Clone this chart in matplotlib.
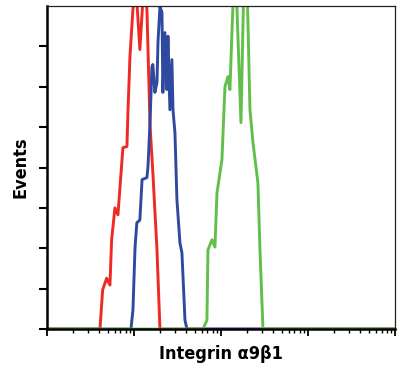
import numpy as np
import matplotlib
matplotlib.use("Agg")
import matplotlib.pyplot as plt
from matplotlib import font_manager
from matplotlib.ticker import LogLocator, NullFormatter

# fluorescence intensity (log scale) and event counts per histogram
red_x = [1, 4.07, 4.37, 4.86, 5.30, 5.54, 6.05, 6.55, 7.47, 8.31, 8.53, 9.0, 9.74,
         10.5, 11.7, 13.0, 14.1, 15.3, 16.5, 18.4, 19.9, 10000]
red_y = [0, 0, 0.97, 1.26, 1.09, 2.21, 3.0, 2.83, 4.49, 4.52, 5.36, 6.75, 7.92,
         8.54, 6.92, 8.54, 7.92, 5.06, 3.87, 1.96, 0, 0]

blue_x = [1, 9.24, 9.74, 10.3, 10.8, 11.7, 12.4, 14.1, 14.5, 15.3, 16.1, 16.5, 17.4,
          18.4, 18.9, 19.9, 21.0, 21.5, 22.7, 23.9, 24.6, 25.9, 27.3, 28.1, 29.6,
          31.2, 33.8, 35.6, 38.6, 40.7, 10000]
blue_y = [0, 0, 0.47, 2.03, 2.63, 2.70, 3.70, 3.75, 4.02, 5.11, 6.50, 6.55, 5.86,
          6.10, 7.10, 7.99, 7.84, 5.86, 7.34, 5.93, 7.25, 5.43, 6.67, 5.43, 4.86,
          3.20, 2.13, 1.89, 0.22, 0, 0]

green_x = [1, 62.1, 69.0, 70.9, 78.8, 85.3, 90.0, 102.6, 111.2, 120.3, 126.8, 133.7,
           141, 148.6, 169.8, 183.6, 199, 215.4, 233.3, 266, 280.8, 304, 10000]
green_y = [0, 0, 0.22, 1.96, 2.21, 2.03, 3.37, 4.19, 6.0, 6.25, 5.93, 7.34,
           8.66, 8.66, 5.11, 8.66, 8.66, 5.43, 4.62, 3.62, 1.96, 0, 0]


def narrow_bold():
    # look for a condensed / narrow bold sans face among installed fonts
    for f in font_manager.fontManager.ttflist:
        name = f.fname.lower()
        if ("narrow" in name or "condensed" in name) and "bold" in name \
                and "italic" not in name and "oblique" not in name:
            return font_manager.FontProperties(fname=f.fname, size=13)
    return font_manager.FontProperties(family="DejaVu Sans", weight="bold",
                                       stretch="condensed", size=12)


fig = plt.figure(figsize=(4.01, 3.71), dpi=100)
ax = fig.add_axes([0.117, 0.113, 0.868, 0.871])

ax.plot(red_x, red_y, color="#ee2a24", lw=2.1, solid_joinstyle="round")
ax.plot(blue_x, blue_y, color="#3049a0", lw=2.1, solid_joinstyle="round")
ax.plot(green_x, green_y, color="#62bf4b", lw=2.1, solid_joinstyle="round")

ax.set_xscale("log")
ax.set_xlim(1, 10000)
ax.set_ylim(0, 8)
ax.set_yticks(np.arange(0, 8))
ax.set_yticklabels([])
ax.xaxis.set_major_locator(LogLocator(base=10, numticks=10))
ax.xaxis.set_minor_locator(LogLocator(base=10, subs=np.arange(2, 10), numticks=10))
ax.xaxis.set_major_formatter(NullFormatter())
ax.xaxis.set_minor_formatter(NullFormatter())

ax.tick_params(axis="y", direction="out", length=6, width=1.5, color="black")
ax.tick_params(axis="x", which="major", direction="out", length=5, width=1.3)
ax.tick_params(axis="x", which="minor", direction="out", length=3, width=1.0)

for side in ["left", "bottom"]:
    ax.spines[side].set_linewidth(1.8)
for side in ["top", "right"]:
    ax.spines[side].set_linewidth(0.9)
    ax.spines[side].set_color("#222222")

fp = narrow_bold()
ax.set_xlabel("Integrin α9β1", fontproperties=fp, labelpad=3)
ax.set_ylabel("Events", fontproperties=fp, labelpad=3)

fig.savefig("out.png", dpi=100)
